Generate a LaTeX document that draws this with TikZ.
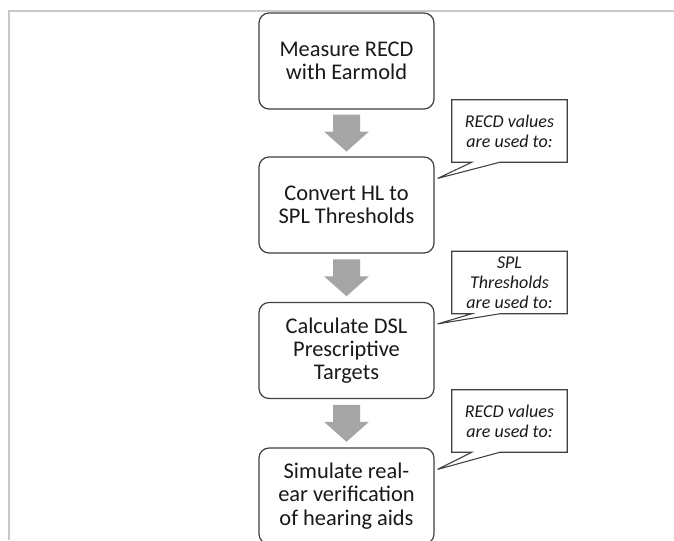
\documentclass[tikz,border=0pt]{standalone}
\usepackage{fontspec}
\setmainfont{Carlito}
\usetikzlibrary{calc}
\definecolor{framegray}{HTML}{C8C8C8}
\definecolor{arrowgray}{HTML}{A5A5A5}
\definecolor{linegray}{HTML}{404040}

\begin{document}
\begin{tikzpicture}[x=0.75pt, y=-0.75pt,
    stepbox/.style={draw=linegray, line width=0.9pt, rounded corners=7.5pt, fill=white,
        minimum width=131.25pt, minimum height=72pt, align=center, inner sep=0pt,
        font=\fontsize{16.8}{17.4}\selectfont, text=black!90},
    notebox/.style={minimum width=86.25pt, minimum height=46.5pt, align=center, inner sep=0pt,
        font=\fontsize{13.5}{15}\selectfont\itshape, text=black!90},
    noteline/.style={draw=linegray, line width=0.8pt, line join=miter}]
    \clip (0,0) rectangle (674,540);
    \fill[white] (0,0) rectangle (674,540);
    \draw[framegray, line width=1.5pt] (9,540) -- (9,11) -- (674,11);

    \node[stepbox] (b1) at (346.5,61) {Measure RECD\\with Earmold};
    \node[stepbox] (b2) at (346.5,205) {Convert HL to\\SPL Thresholds};
    \node[stepbox] (b3) at (346.5,350.5) {Calculate DSL\\Prescriptive\\Targets};
    \node[stepbox] (b4) at (346.5,496) {Simulate real-\\ear verification\\of hearing aids};

    \foreach \u/\v in {b1/b2, b2/b3, b3/b4} {
        \coordinate (m) at ($(\u.south)!0.5!(\v.north)$);
        \fill[arrowgray] ($(m)+(-13.5,-18.5)$) -- ++(27,0) -- ++(0,17) -- ++(9,0)
            -- ($(m)+(0,18.5)$) -- ($(m)+(-22.5,-1.5)$) -- ++(9,0) -- cycle;
    }

    \node[notebox] (c1) at (509.5,131) {RECD values\\are used to:};
    \node[notebox] (c2) at (509.5,282.5) {SPL\\Thresholds\\are used to:};
    \node[notebox] (c3) at (509.5,421) {RECD values\\are used to:};

    \foreach \c/\b in {c1/b2, c2/b3, c3/b4} {
        \coordinate (t) at ($(\b.north east)+(3,22)$);
        \draw[noteline] (\c.south west) -- (\c.north west) -- (\c.north east) -- (\c.south east)
            -- ($(\c.south west)+(48,0)$) -- (t) -- ($(\c.south west)+(20,0)$) -- cycle;
    }
\end{tikzpicture}
\end{document}
